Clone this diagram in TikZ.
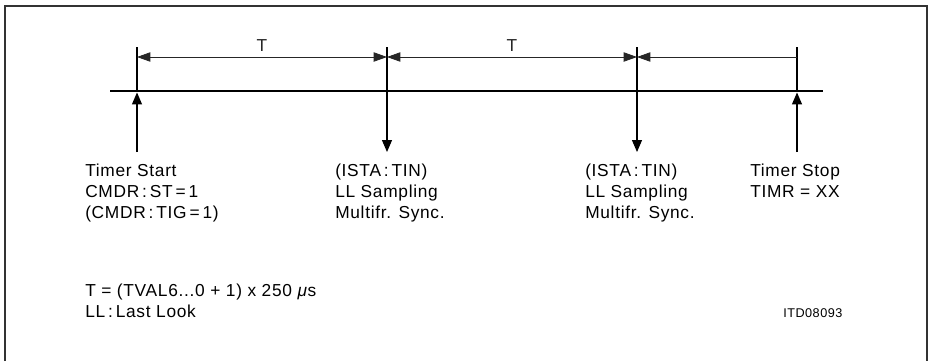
\documentclass[tikz,border=0pt]{standalone}
\usepackage{fontspec}
\setmainfont{Liberation Sans}
\newfontfamily\tlfamily{Liberation Sans}[LetterSpace=4]
\newcommand\tlfont{\tlfamily\fontsize{13pt}{15.4pt}\selectfont}
\newcommand\idfont{\tlfamily\fontsize{9.5pt}{11pt}\selectfont}
\usetikzlibrary{arrows.meta}

\begin{document}
\begin{tikzpicture}[x=0.75pt, y=-0.75pt,
  axis/.style={line width=2.2pt},
  tick/.style={line width=0.9pt},
  event/.style={-{Triangle[length=9pt, width=7.5pt]}, line width=0.9pt},
  dim/.style={<->, >={Triangle[length=10pt, width=7pt]}, line width=0.6pt, black!85},
  lastdim/.style={<-, >={Triangle[length=10pt, width=7pt]}, line width=0.6pt, black!85},
  lbl/.style={anchor=base west, inner sep=0pt, align=left, font=\tlfont},
  period/.style={above=3.5pt, inner sep=0pt, font=\tlfont},
  frame/.style={line width=1pt, black!80},
]
  \useasboundingbox (0,0) rectangle (930,361);

  % Frame, open at the bottom
  \draw[frame] (5,361) -- (5,6) -- (927,6) -- (927,361);

  % Time axis
  \coordinate (axisL) at (110,91);
  \coordinate (axisR) at (823,91);
  \coordinate (tstart) at (137,91);
  \coordinate (tin1) at (387,91);
  \coordinate (tin2) at (637,91);
  \coordinate (tstop) at (797,91);
  \draw[axis] (axisL) -- (axisR);

  % Helper points above and below each event
  \foreach \p in {tstart,tin1,tin2,tstop} {
    \path (\p) ++(0,-44) coordinate (\p-top);
    \path (\p) ++(0,-34) coordinate (\p-dim);
    \path (\p) ++(0,61) coordinate (\p-bot);
  }

  % Event lines
  \draw[tick] (tstart-top) -- (tstart);
  \draw[event, shorten >=1.1pt] (tstart-bot) -- (tstart);
  \draw[event] (tin1-top) -- (tin1-bot);
  \draw[event] (tin2-top) -- (tin2-bot);
  \draw[tick] (tstop-top) -- (tstop);
  \draw[event, shorten >=1.1pt] (tstop-bot) -- (tstop);

  % Periods
  \draw[dim] (tstart-dim) -- node[period] {T} (tin1-dim);
  \draw[dim] (tin1-dim) -- node[period] {T} (tin2-dim);
  \draw[lastdim] (tin2-dim) -- (tstop-dim);

  % Event labels (anchored at the base of their last line)
  \node[lbl] (startlbl) at (85,218)
    {Timer Start\\CMDR\,:\,ST\,=\,1\\(CMDR\,:\,TIG\,=\,1)};
  \node[lbl] (tin1lbl) at (335,218)
    {(ISTA\,:\,TIN)\\LL Sampling\\Multifr. Sync.};
  \node[lbl] (tin2lbl) at (585,218)
    {(ISTA\,:\,TIN)\\LL Sampling\\Multifr. Sync.};
  \node[lbl] (stoplbl) at (750,197.5)
    {Timer Stop\\TIMR = XX};

  % Notes
  \node[lbl] (formula) at (85,296) {T = (TVAL6...0 + 1) x 250 \textit{μ}s};
  \node[lbl] (legend) at (85,317) {LL\,:\,Last Look};
  \node[lbl, font=\idfont] (figid) at (783,317) {ITD08093};
\end{tikzpicture}
\end{document}
